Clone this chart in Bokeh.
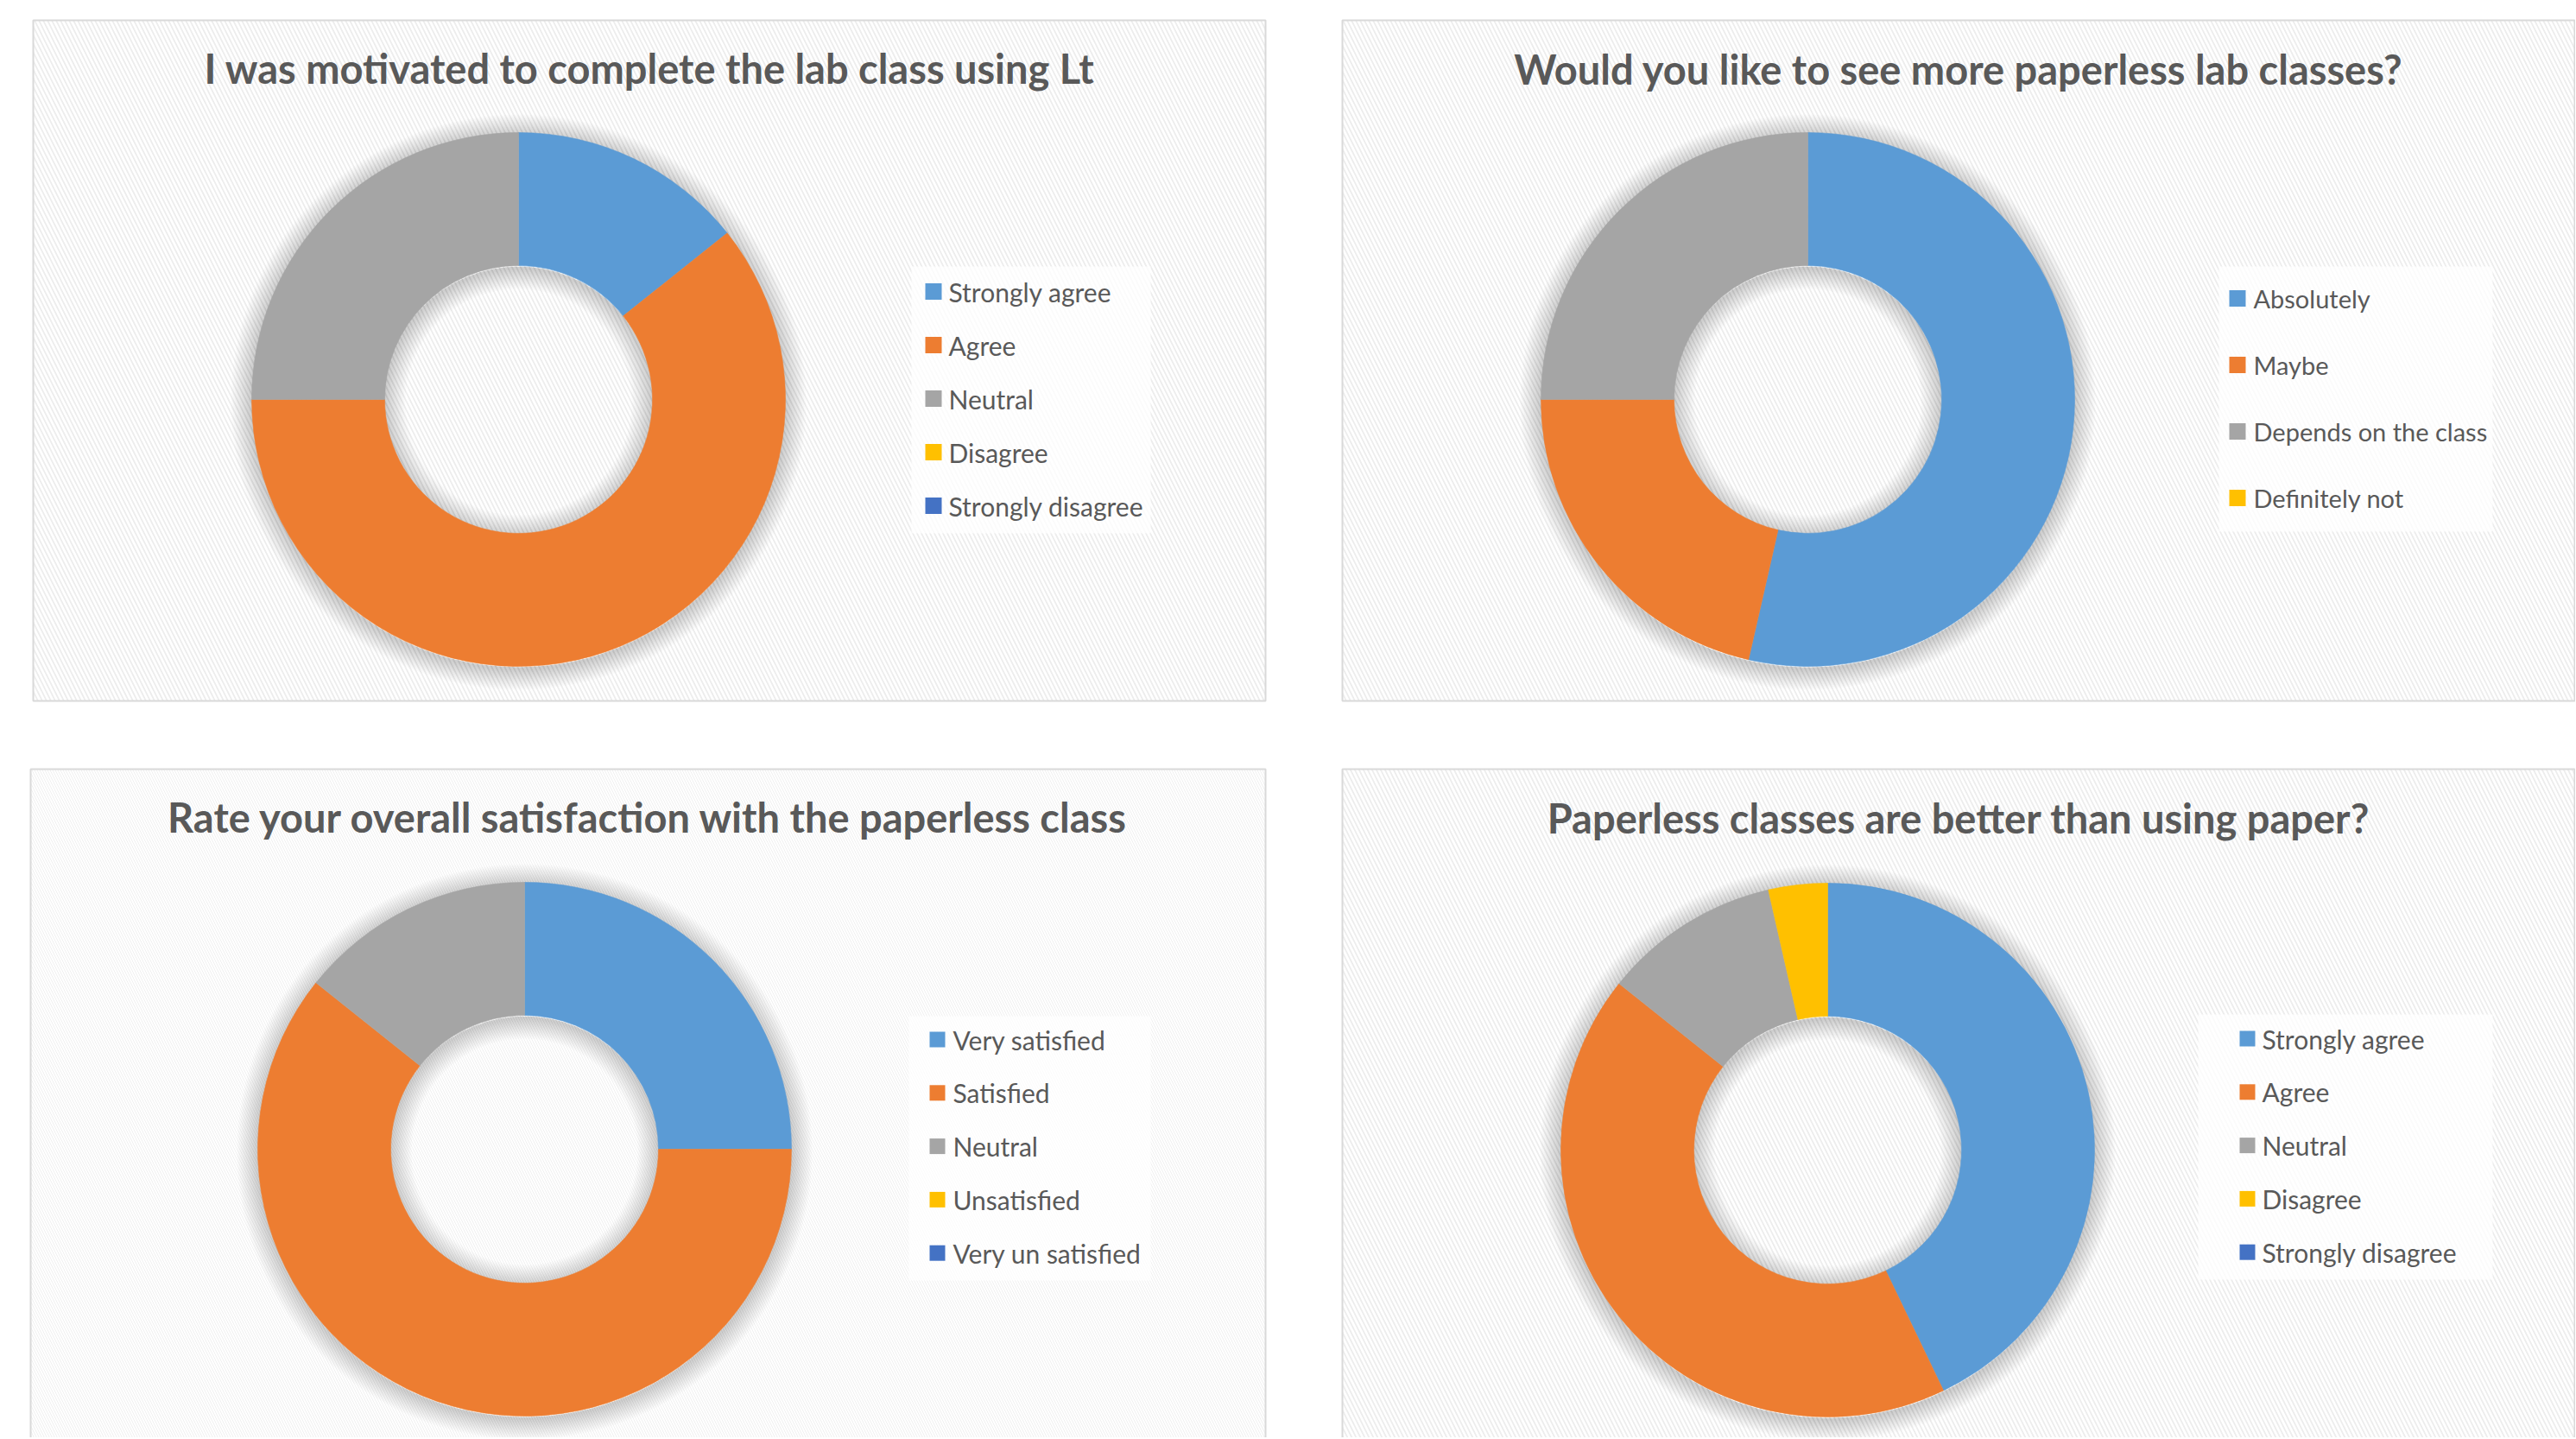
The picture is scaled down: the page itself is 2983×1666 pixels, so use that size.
import math
from bokeh.plotting import figure
from bokeh.models import Range1d, ColumnDataSource
from bokeh.embed import file_html
from bokeh.resources import INLINE
from bokeh.core.properties import value

# ---------------- data ----------------
q1_title = "I was motivated to complete the lab class using Lt"
q1_labels = ["Strongly agree", "Agree", "Neutral", "Disagree", "Strongly disagree"]
q1_values = [4, 17, 7, 0, 0]

q2_title = "Would you like to see more paperless lab classes?"
q2_labels = ["Absolutely", "Maybe", "Depends on the class", "Definitely not"]
q2_values = [15, 6, 7, 0]

q3_title = "Rate your overall satisfaction with the paperless class"
q3_labels = ["Very satisfied", "Satisfied", "Neutral", "Unsatisfied", "Very un satisfied"]
q3_values = [7, 17, 4, 0, 0]

q4_title = "Paperless classes are better than using paper?"
q4_labels = ["Strongly agree", "Agree", "Neutral", "Disagree", "Strongly disagree"]
q4_values = [12, 12, 3, 1, 0]

slice_colors = ["#5B9BD5", "#ED7D31", "#A5A5A5", "#FFC000", "#4472C4"]

# ---------------- layout (page pixel coordinates) ----------------
W, H = 2982, 1664
OX, OY = 0, 0


def X(px):
    return px - OX


def Y(py):
    return (OY + H) - py


layouts = [
    dict(box=(38, 23, 1465, 811), center=(600, 462), R=309, r=155, title_y=78,
         lg_box=(1055, 308, 1332, 617), row0=337, pitch=62, gx=1071, gs=19, tx=1098, fs=30,
         hatch=("#EDEDED", 10, 1.8)),
    dict(box=(1554, 23, 2981, 811), center=(2093, 462), R=309, r=155, title_y=79,
         lg_box=(2569, 308, 2886, 615), row0=345, pitch=77, gx=2581, gs=19, tx=2609, fs=29,
         hatch=("#EDEDED", 10, 1.8)),
    dict(box=(35, 890, 1465, 1720), center=(607, 1330), R=309, r=155, title_y=945,
         lg_box=(1052, 1176, 1332, 1482), row0=1203, pitch=61.8, gx=1076, gs=18, tx=1103, fs=30,
         hatch=("#F0F0F0", 6, 1.0)),
    dict(box=(1554, 890, 2981, 1720), center=(2116, 1331), R=309, r=155, title_y=946,
         lg_box=(2545, 1174, 2886, 1481), row0=1202, pitch=61.8, gx=2593, gs=18, tx=2619, fs=30,
         hatch=("#EDEDED", 10, 1.8)),
]

TEXT_COLOR = "#595959"

p = figure(width=W, height=H, x_range=Range1d(0, W), y_range=Range1d(0, H),
           output_backend="svg", toolbar_location=None, title=None,
           x_axis_location=None, y_axis_location=None, min_border=0)
p.grid.visible = False
p.outline_line_color = None
p.background_fill_color = "white"
p.border_fill_color = "white"


def draw_panel(title, labels, values, L):
    l, t, r, b = L["box"]
    hc, hs, hw = L["hatch"]
    # panel background with diagonal texture
    p.quad(left=[X(l)], right=[X(r)], top=[Y(t)], bottom=[Y(b)],
           fill_color="white", hatch_pattern="left_diagonal_line", hatch_color=hc,
           hatch_scale=hs, hatch_weight=hw, line_color="#D9D9D9", line_width=2)

    cx, cy = L["center"]
    R, r_in = L["R"], L["r"]

    # soft shadow around the ring and inside the hole
    n = 12
    p.annulus(x=[X(cx)] * n, y=[Y(cy + 3)] * n, inner_radius=R - 2,
              outer_radius=[R + 2.0 * (k + 1) for k in range(n)],
              fill_color="black", fill_alpha=0.015, line_color=None)
    p.annulus(x=[X(cx)] * n, y=[Y(cy + 3)] * n,
              inner_radius=[r_in - 2.0 * (k + 1) for k in range(n)], outer_radius=r_in + 2,
              fill_color="black", fill_alpha=0.015, line_color=None)

    # donut slices, clockwise from 12 o'clock
    total = float(sum(values))
    starts, ends, cols = [], [], []
    cum = 0.0
    for i, v in enumerate(values):
        if v > 0:
            starts.append(math.pi / 2 - 2 * math.pi * cum / total)
            ends.append(math.pi / 2 - 2 * math.pi * (cum + v) / total)
            cols.append(slice_colors[i])
        cum += v
    src = ColumnDataSource(dict(x=[X(cx)] * len(starts), y=[Y(cy)] * len(starts),
                                start=starts, end=ends, color=cols))
    p.annular_wedge(x="x", y="y", inner_radius=r_in, outer_radius=R,
                    start_angle="start", end_angle="end", direction="clock",
                    fill_color="color", line_color="color", line_width=0.6, source=src)

    # title
    p.text(x=[X((l + r) / 2)], y=[Y(L["title_y"])], text=[title],
           text_font=value("Lato"), text_font_style="bold", text_font_size="47px",
           text_color=TEXT_COLOR, text_align="center", text_baseline="middle")

    # legend
    ll, lt, lr, lb = L["lg_box"]
    p.quad(left=[X(ll)], right=[X(lr)], top=[Y(lt)], bottom=[Y(lb)],
           fill_color="white", fill_alpha=0.75, line_color=None)
    nlab = len(labels)
    ys = [L["row0"] + k * L["pitch"] for k in range(nlab)]
    gs, gx = L["gs"], L["gx"]
    p.quad(left=[X(gx)] * nlab, right=[X(gx + gs)] * nlab,
           top=[Y(yy - gs / 2) for yy in ys], bottom=[Y(yy + gs / 2) for yy in ys],
           fill_color=slice_colors[:nlab], line_color=None)
    p.text(x=[X(L["tx"])] * nlab, y=[Y(yy) for yy in ys], text=labels,
           text_font=value("Lato"), text_font_size=f"{L['fs']}px",
           text_color=TEXT_COLOR, text_align="left", text_baseline="middle")


draw_panel(q1_title, q1_labels, q1_values, layouts[0])
draw_panel(q2_title, q2_labels, q2_values, layouts[1])
draw_panel(q3_title, q3_labels, q3_values, layouts[2])
draw_panel(q4_title, q4_labels, q4_values, layouts[3])

open("out.html", "w").write(file_html(p, INLINE))
